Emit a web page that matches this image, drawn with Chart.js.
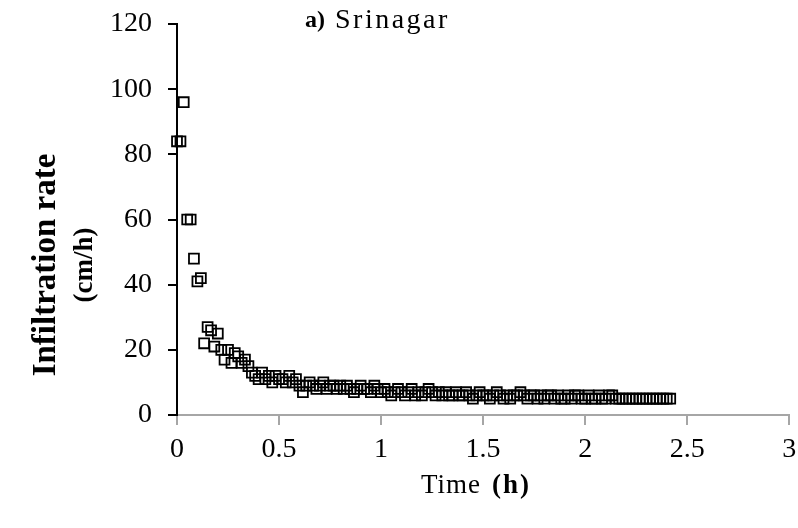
<!DOCTYPE html>
<html>
<head>
<meta charset="utf-8">
<script src="https://cdn.jsdelivr.net/npm/chart.js@4"></script>
<style>
  html, body { margin: 0; padding: 0; background: #fff; }
  #wrap { width: 798px; height: 528px; }
</style>
</head>
<body>
<div id="wrap"><canvas id="c" width="798" height="528"></canvas></div>
<script>
const chartTitleBold = 'a)';
const chartTitleRest = 'Srinagar';
const xTitleText = 'Time';
const xTitleUnit = '(h)';
const yTitleLines = ['Infiltration rate', '(cm/h)'];

const xTicks = [0, 0.5, 1, 1.5, 2, 2.5, 3];
const yTicks = [0, 20, 40, 60, 80, 100, 120];

const timeH = [
  0, 0.017, 0.033, 0.05, 0.067, 0.083, 0.1, 0.117, 0.133, 0.15,
  0.167, 0.183, 0.2, 0.217, 0.233, 0.25, 0.267, 0.283, 0.3, 0.317,
  0.333, 0.35, 0.367, 0.383, 0.4, 0.417, 0.433, 0.45, 0.467, 0.483,
  0.5, 0.517, 0.533, 0.55, 0.567, 0.583, 0.6, 0.617, 0.633, 0.65,
  0.667, 0.683, 0.7, 0.717, 0.733, 0.75, 0.767, 0.783, 0.8, 0.817,
  0.833, 0.85, 0.867, 0.883, 0.9, 0.917, 0.933, 0.95, 0.967, 0.983,
  1, 1.017, 1.033, 1.05, 1.067, 1.083, 1.1, 1.117, 1.133, 1.15,
  1.167, 1.183, 1.2, 1.217, 1.233, 1.25, 1.267, 1.283, 1.3, 1.317,
  1.333, 1.35, 1.367, 1.383, 1.4, 1.417, 1.433, 1.45, 1.467, 1.483,
  1.5, 1.517, 1.533, 1.55, 1.567, 1.583, 1.6, 1.617, 1.633, 1.65,
  1.667, 1.683, 1.7, 1.717, 1.733, 1.75, 1.767, 1.783, 1.8, 1.817,
  1.833, 1.85, 1.867, 1.883, 1.9, 1.917, 1.933, 1.95, 1.967, 1.983,
  2, 2.017, 2.033, 2.05, 2.067, 2.083, 2.1, 2.117, 2.133, 2.15,
  2.167, 2.183, 2.2, 2.217, 2.233, 2.25, 2.267, 2.283, 2.3, 2.317,
  2.333, 2.35, 2.367, 2.383, 2.4, 2.417
];

const infiltrationRate = [
  84, 84, 96, 60, 60, 48, 41, 42, 22, 27,
  26, 21, 25, 20, 17, 20, 16, 19, 18, 16,
  17, 15, 13, 12, 11, 13, 11, 12, 10, 12,
  11, 11, 10, 12, 10, 11, 9, 7, 9, 10,
  9, 8, 9, 10, 8, 9, 9, 8, 9, 8,
  9, 8, 7, 8, 9, 8, 8, 7, 9, 8,
  7, 8, 7, 6, 7, 8, 7, 6, 7, 8,
  6, 7, 6, 7, 8, 7, 6, 7, 6, 7,
  6, 6, 7, 6, 6, 7, 6, 5, 6, 7,
  6, 6, 5, 6, 7, 6, 5, 6, 5, 6,
  6, 7, 6, 5, 6, 6, 5, 6, 5, 6,
  6, 5, 6, 5, 5, 6, 5, 6, 6, 5,
  5, 6, 5, 5, 6, 5, 5, 6, 6, 5,
  5, 5, 5, 5, 5, 5, 5, 5, 5, 5,
  5, 5, 5, 5, 5, 5
];

const points = timeH.map((t, i) => ({ x: t, y: infiltrationRate[i] }));

const SERIF = '"Liberation Serif", "Times New Roman", serif';

const titlesPlugin = {
  id: 'titlesPlugin',
  afterDraw(chart) {
    const ctx = chart.ctx;
    ctx.save();
    ctx.fillStyle = '#000';
    ctx.textBaseline = 'middle';
    ctx.textAlign = 'left';

    // chart title: bold "a)" + regular "Srinagar"
    ctx.letterSpacing = '0px';
    ctx.font = 'bold 24px ' + SERIF;
    ctx.fillText(chartTitleBold, 305, 21);
    ctx.font = '28px ' + SERIF;
    ctx.letterSpacing = '2.5px';
    ctx.fillText(chartTitleRest, 335, 21);

    // x title: "Time" regular + "(h)" bold
    ctx.font = '27px ' + SERIF;
    ctx.letterSpacing = '1px';
    ctx.fillText(xTitleText, 421, 486);
    ctx.font = 'bold 27px ' + SERIF;
    ctx.letterSpacing = '2px';
    ctx.fillText(xTitleUnit, 492, 486);

    // y title, rotated, two lines
    ctx.letterSpacing = '0px';
    ctx.textAlign = 'center';
    ctx.translate(0, 265);
    ctx.rotate(-Math.PI / 2);
    ctx.font = 'bold 33px ' + SERIF;
    ctx.fillText(yTitleLines[0], 0, 46);
    ctx.font = 'bold 27px ' + SERIF;
    ctx.fillText(yTitleLines[1], 0, 85);
    ctx.restore();
  }
};

new Chart(document.getElementById('c'), {
  type: 'scatter',
  data: {
    datasets: [{
      data: points,
      pointStyle: 'rect',
      pointRadius: 7,
      pointHoverRadius: 7,
      borderColor: '#000',
      backgroundColor: 'rgba(255,255,255,0)',
      borderWidth: 1.8,
      showLine: false,
      clip: false
    }]
  },
  options: {
    responsive: false,
    animation: false,
    devicePixelRatio: 1,
    layout: { padding: { top: 24, right: 6, left: 0, bottom: 0 } },
    plugins: {
      legend: { display: false },
      tooltip: { enabled: false },
      title: { display: false }
    },
    scales: {
      x: {
        type: 'linear',
        min: 0, max: 3,
        afterBuildTicks(scale) { scale.ticks = xTicks.map(v => ({ value: v })); },
        afterFit(scale) { scale.height = 113; scale.paddingLeft = 0; scale.paddingRight = 0; },
        grid: { display: true, drawOnChartArea: false, drawTicks: true, tickLength: 10, color: '#a6a6a6', lineWidth: 2 },
        border: { display: true, color: '#a6a6a6', width: 2 },
        ticks: {
          color: '#000',
          padding: 8,
          font: { family: SERIF, size: 28 },
          callback: v => String(v)
        }
      },
      y: {
        type: 'linear',
        min: 0, max: 120,
        afterBuildTicks(scale) { scale.ticks = yTicks.map(v => ({ value: v })); },
        afterFit(scale) { scale.width = 177; scale.paddingTop = 0; scale.paddingBottom = 0; },
        grid: { display: true, drawOnChartArea: false, drawTicks: true, tickLength: 9, color: '#000', lineWidth: 2 },
        border: { display: true, color: '#000', width: 2 },
        ticks: {
          color: '#000',
          padding: 16,
          font: { family: SERIF, size: 28 },
          callback: v => String(v)
        }
      }
    }
  },
  plugins: [titlesPlugin]
});
</script>
</body>
</html>
